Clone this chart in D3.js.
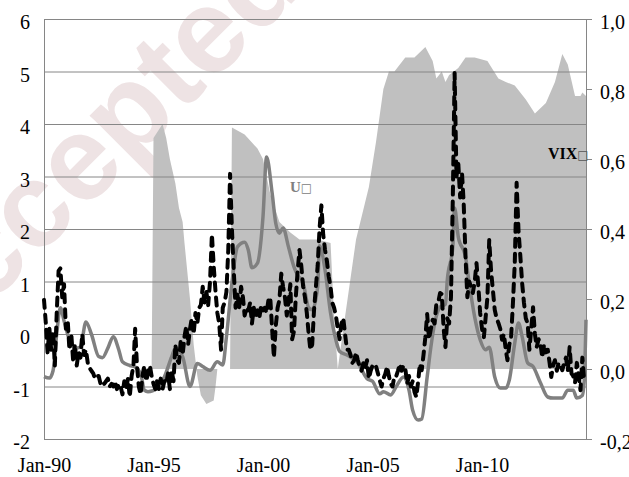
<!DOCTYPE html>
<html>
<head>
<meta charset="utf-8">
<script src="https://cdn.jsdelivr.net/npm/d3@7"></script>
<style>
  body { margin: 0; background: #fff; }
  svg { display: block; font-family: "Liberation Serif", "Times New Roman", serif; }
  .axis text { font-family: "Liberation Serif", "Times New Roman", serif; font-size: 20px; fill: #000; }
  .axis .domain { stroke: #868686; }
  .axis .tick line { stroke: #868686; }
</style>
</head>
<body>
<svg id="chart" width="629" height="477"></svg>
<script>
// monthly data, x = months since Jan-1990
const START = new Date(1990, 0, 1);
const LAST_MONTH = 297;

// black dashed series (left axis)
const dashedSeries = [
  [0,0.65],[1,0.2],[2,-0.35],[3,0.1],[4,-0.3],[5,0.05],[6,-0.6],[7,0.4],[8,1.2],[9,1.25],
  [10,0.7],[11,0.95],[12,0.1],[13,0.25],[14,-0.3],[15,0.0],[16,-0.5],[17,-0.2],[18,-0.6],[19,-0.35],
  [20,-0.45],[21,0.0],[22,-0.4],[23,-0.3],[24,-0.55],[25,-0.65],[26,-0.7],[27,-0.75],[28,-0.85],[29,-0.8],
  [30,-0.8],[31,-0.95],[32,-0.9],[33,-0.95],[34,-0.9],[35,-0.85],[36,-1.0],[37,-0.95],[38,-1.0],[39,-0.9],
  [40,-1.05],[41,-0.95],[42,-1.0],[43,-1.15],[44,-0.9],[45,-1.05],[46,-0.85],[47,-1.2],[48,-0.8],[49,-0.6],
  [50,0.1],[51,-0.6],[52,-1.0],[53,-1.15],[54,-0.8],[55,-0.6],[56,-0.9],[57,-0.75],[58,-0.6],[59,-0.8],
  [60,-0.95],[61,-1.05],[62,-0.9],[63,-1.05],[64,-0.85],[65,-1.05],[66,-0.9],[67,-0.95],[68,-0.75],[69,-1.05],
  [70,-0.7],[71,-0.9],[72,-0.2],[73,-0.5],[74,-0.55],[75,-0.1],[76,-0.4],[77,-0.05],[78,0.15],[79,-0.2],
  [80,0.1],[81,0.3],[82,0.0],[83,0.4],[84,0.2],[85,0.5],[86,0.55],[87,0.9],[88,0.6],[89,0.8],
  [90,0.55],[91,1.0],[92,1.9],[93,1.3],[94,0.8],[95,0.4],[96,0.2],[97,-0.3],[98,0.5],[99,0.6],
  [100,0.8],[101,1.6],[102,3.05],[103,2.0],[104,1.2],[105,0.5],[106,0.75],[107,0.5],[108,0.9],[109,0.7],
  [110,0.35],[111,0.5],[112,0.45],[113,0.6],[114,0.2],[115,0.5],[116,0.3],[117,0.45],[118,0.3],[119,0.55],
  [120,0.45],[121,0.5],[122,0.4],[123,0.65],[124,0.7],[125,0.1],[126,-0.45],[127,0.15],[128,0.5],[129,0.65],
  [130,1.15],[131,0.9],[132,0.7],[133,0.35],[134,0.6],[135,0.95],[136,-0.1],[137,0.05],[138,0.7],[139,1.2],
  [140,1.6],[141,1.3],[142,0.9],[143,0.7],[144,0.4],[145,0.0],[146,-0.3],[147,-0.2],[148,0.45],[149,0.9],
  [150,1.3],[151,2.0],[152,2.45],[153,1.9],[154,1.6],[155,1.4],[156,1.1],[157,0.9],[158,0.6],[159,0.5],
  [160,0.35],[161,0.1],[162,-0.1],[163,0.2],[164,0.3],[165,0.0],[166,-0.3],[167,-0.3],[168,-0.4],[169,-0.55],
  [170,-0.5],[171,-0.35],[172,-0.5],[173,-0.62],[174,-0.7],[175,-0.55],[176,-0.65],[177,-0.5],[178,-0.85],[179,-0.7],
  [180,-0.6],[181,-0.65],[182,-0.62],[183,-0.75],[184,-0.88],[185,-1.0],[186,-0.85],[187,-0.76],[188,-0.62],[189,-0.8],
  [190,-0.95],[191,-1.0],[192,-0.8],[193,-0.8],[194,-0.7],[195,-0.57],[196,-0.7],[197,-0.6],[198,-0.65],[199,-0.95],
  [200,-0.8],[201,-1.0],[202,-0.9],[203,-1.1],[204,-1.2],[205,-0.9],[206,-0.57],[207,-0.69],[208,-0.4],[209,-0.06],
  [210,0.38],[211,-0.1],[212,0.1],[213,0.27],[214,0.2],[215,0.57],[216,0.6],[217,0.78],[218,0.76],[219,0.1],
  [220,-0.25],[221,0.3],[222,0.2],[223,0.7],[224,2.6],[225,4.97],[226,3.0],[227,3.26],[228,2.6],[229,3.07],
  [230,2.5],[231,1.47],[232,0.7],[233,1.0],[234,0.9],[235,0.78],[236,1.0],[237,1.35],[238,0.9],[239,0.4],
  [240,0.1],[241,-0.06],[242,0.3],[243,0.7],[244,1.79],[245,1.2],[246,0.84],[247,0.46],[248,0.3],[249,0.21],
  [250,0.1],[251,-0.11],[252,0.0],[253,-0.3],[254,-0.5],[255,-0.2],[256,-0.06],[257,0.6],[258,1.35],[259,2.88],
  [260,1.98],[261,1.5],[262,0.97],[263,0.6],[264,0.3],[265,0.2],[266,-0.3],[267,0.1],[268,0.51],[269,0.0],
  [270,-0.25],[271,-0.1],[272,-0.17],[273,-0.45],[274,-0.2],[275,-0.35],[276,-0.3],[277,-0.55],[278,-0.82],[279,-0.6],
  [280,-0.5],[281,-0.7],[282,-0.55],[283,-0.6],[284,-0.69],[285,-0.55],[286,-0.45],[287,-0.7],[288,-0.25],[289,-0.75],
  [290,-0.8],[291,-0.93],[292,-0.55],[293,-0.8],[294,-1.07],[295,-0.45],[296,-0.9]
];

// grey solid series (left axis)
const solidSeries = [
  [0,-0.81],[3,-0.84],[5,-0.7],[7,0.0],[9,0.5],[11,0.25],[14,-0.11],[17,-0.27],[20,-0.25],[23,0.23],
  [26,0.0],[30,-0.43],[32,-0.45],[35,-0.27],[38,-0.05],[41,-0.3],[43,-0.53],[47,-0.6],[50,-0.63],[53,-0.75],
  [55,-1.07],[57,-1.1],[62,-1.03],[66,-0.82],[70,-0.43],[72,-0.27],[76,-0.43],[80,-1.0],[84,-0.56],[87,-0.62],
  [91,-0.69],[95,-0.53],[98,-0.59],[100,-0.06],[103,0.97],[106,1.66],[110,1.75],[112,1.6],[114,1.26],[117,1.35],
  [120,2.23],[122,3.37],[125,2.69],[127,2.11],[129,1.92],[131,2.02],[134,1.66],[137,1.28],[139,1.12],[142,0.97],
  [145,0.5],[147,0.46],[150,0.9],[151,1.68],[154,1.22],[157,0.4],[160,-0.11],[162,-0.33],[166,-0.4],[172,-0.55],
  [177,-0.85],[180,-0.9],[184,-1.14],[186,-1.1],[190,-1.16],[193,-1.0],[197,-0.82],[200,-1.07],[202,-1.45],[205,-1.64],
  [207,-1.62],[210,-0.82],[212,-0.25],[214,0.19],[217,0.51],[220,0.57],[221,1.03],[224,1.66],[225,2.4],[227,1.85],
  [231,1.47],[233,0.97],[236,0.32],[239,-0.11],[242,-0.3],[244,-0.25],[247,-0.82],[250,-1.03],[253,-1.03],[255,-0.88],
  [258,-0.17],[260,0.21],[262,-0.05],[265,-0.55],[268,-0.62],[272,-0.93],[276,-1.2],[279,-1.22],[284,-1.22],[287,-1.07],
  [290,-1.07],[292,-1.22],[295,-1.17],[296,-0.9],[297,0.27]
];

// grey area (right axis)
const areaSeries = [
  [0,0],[59,0],[60,0.66],[65,0.70],[67,0.66],[69,0.6],[72,0.53],[74,0.46],[76,0.42],[77,0.36],
  [80,0.2],[82,0.07],[84,-0.02],[86,-0.075],[89,-0.1],[93,-0.09],[94,-0.05],[95,0],[102,0],[103,0.69],
  [110,0.67],[117,0.63],[120,0.6],[124,0.5],[129,0.42],[135,0.39],[140,0.37],[150,0.37],[157,0.36],[159,0.15],
  [161,0],[165,0.15],[171,0.37],[178,0.52],[182,0.65],[186,0.8],[189,0.85],[192,0.85],[198,0.89],[203,0.89],
  [209,0.92],[213,0.88],[215,0.83],[218,0.85],[220,0.82],[222,0.84],[227,0.86],[231,0.89],[236,0.89],[243,0.88],
  [249,0.83],[253,0.82],[258,0.81],[264,0.77],[269,0.73],[275,0.76],[280,0.82],[284,0.9],[287,0.87],[291,0.78],
  [294,0.78],[295,0.79],[297,0.78]
];

const leftTicks = [-2, -1, 0, 1, 2, 3, 4, 5, 6];
const rightTicks = [-0.2, 0, 0.2, 0.4, 0.6, 0.8, 1.0];
const rightTickLabels = ["-0,2", "0,0", "0,2", "0,4", "0,6", "0,8", "1,0"];
const xTickYears = [1990, 1995, 2000, 2005, 2010];
const xTickLabels = ["Jan-90", "Jan-95", "Jan-00", "Jan-05", "Jan-10"];

const width = 629, height = 477;
const margin = { top: 19, right: 43, bottom: 38, left: 44 };
const innerW = width - margin.left - margin.right;
const innerH = height - margin.top - margin.bottom;
const SERIF = "'Liberation Serif', 'Times New Roman', serif";

const monthDate = m => d3.timeMonth.offset(START, m);

const x = d3.scaleTime().domain([START, monthDate(LAST_MONTH)]).range([0, innerW]);
const yL = d3.scaleLinear().domain([-2, 6]).range([innerH, 0]);
const yR = d3.scaleLinear().domain([-0.2, 1.0]).range([innerH, 0]);

const svg = d3.select("#chart");

// faint watermark behind everything
svg.append("text")
  .attr("transform", "translate(-74,369) rotate(-45)")
  .attr("font-family", "'Liberation Sans', Arial, sans-serif")
  .attr("font-weight", 700)
  .attr("font-size", 120)
  .attr("fill", "#eee3e4")
  .text("Accepted");

const g = svg.append("g").attr("transform", `translate(${margin.left},${margin.top})`);

g.append("path")
  .datum(areaSeries)
  .attr("fill", "#c0c0c0")
  .attr("d", d3.area()
    .x(d => x(monthDate(d[0])))
    .y0(yR(0))
    .y1(d => yR(d[1])));

// gridlines
g.append("g")
  .call(d3.axisLeft(yL).tickValues(leftTicks).tickSize(-innerW).tickFormat(""))
  .call(a => a.select(".domain").remove())
  .call(a => a.selectAll(".tick line").attr("stroke", "#868686"));

g.append("g")
  .attr("class", "axis")
  .call(d3.axisLeft(yL).tickValues(leftTicks).tickSize(0).tickPadding(14).tickFormat(d => String(d)))
  .attr("font-family", SERIF)
  .call(a => a.selectAll("text").attr("dy", "0.48em"));

g.append("g")
  .attr("class", "axis")
  .attr("transform", `translate(${innerW},0)`)
  .call(d3.axisRight(yR).tickValues(rightTicks).tickSize(6).tickPadding(8).tickFormat((d, i) => rightTickLabels[i]))
  .attr("font-family", SERIF)
  .call(a => a.selectAll("text").attr("dy", "0.48em"));

g.append("g")
  .attr("class", "axis")
  .attr("transform", `translate(0,${innerH})`)
  .call(d3.axisBottom(x).tickValues(xTickYears.map(y => new Date(y, 0, 1))).tickSize(0).tickPadding(19)
    .tickFormat((d, i) => xTickLabels[i]))
  .attr("font-family", SERIF);

g.append("path")
  .datum(solidSeries)
  .attr("fill", "none")
  .attr("stroke", "#808080")
  .attr("stroke-width", 3.5)
  .attr("stroke-linejoin", "round")
  .attr("d", d3.line()
    .curve(d3.curveMonotoneX)
    .x(d => x(monthDate(d[0])))
    .y(d => yL(d[1])));

g.append("path")
  .datum(dashedSeries)
  .attr("fill", "none")
  .attr("stroke", "#000")
  .attr("stroke-width", 4)
  .attr("stroke-dasharray", "8,7")
  .attr("stroke-linecap", "round")
  .attr("stroke-linejoin", "round")
  .attr("d", d3.line()
    .x(d => x(monthDate(d[0])))
    .y(d => yL(d[1])));

// series labels
const uLabel = svg.append("text")
  .attr("x", 290).attr("y", 192)
  .attr("font-family", SERIF)
  .attr("font-size", 15).attr("font-weight", 700).attr("fill", "#808080");
uLabel.append("tspan").text("U");
uLabel.append("tspan").attr("font-family", "'DejaVu Sans'").attr("font-weight", 400).attr("font-size", 12).text("\u25A1");

const vixLabel = svg.append("text")
  .attr("x", 548).attr("y", 159)
  .attr("font-family", SERIF)
  .attr("font-size", 16).attr("font-weight", 700).attr("fill", "#000");
vixLabel.append("tspan").text("VIX");
vixLabel.append("tspan").attr("font-family", "'DejaVu Sans'").attr("font-weight", 400).attr("font-size", 12).attr("fill", "#555").text("\u25A1");
</script>
</body>
</html>
